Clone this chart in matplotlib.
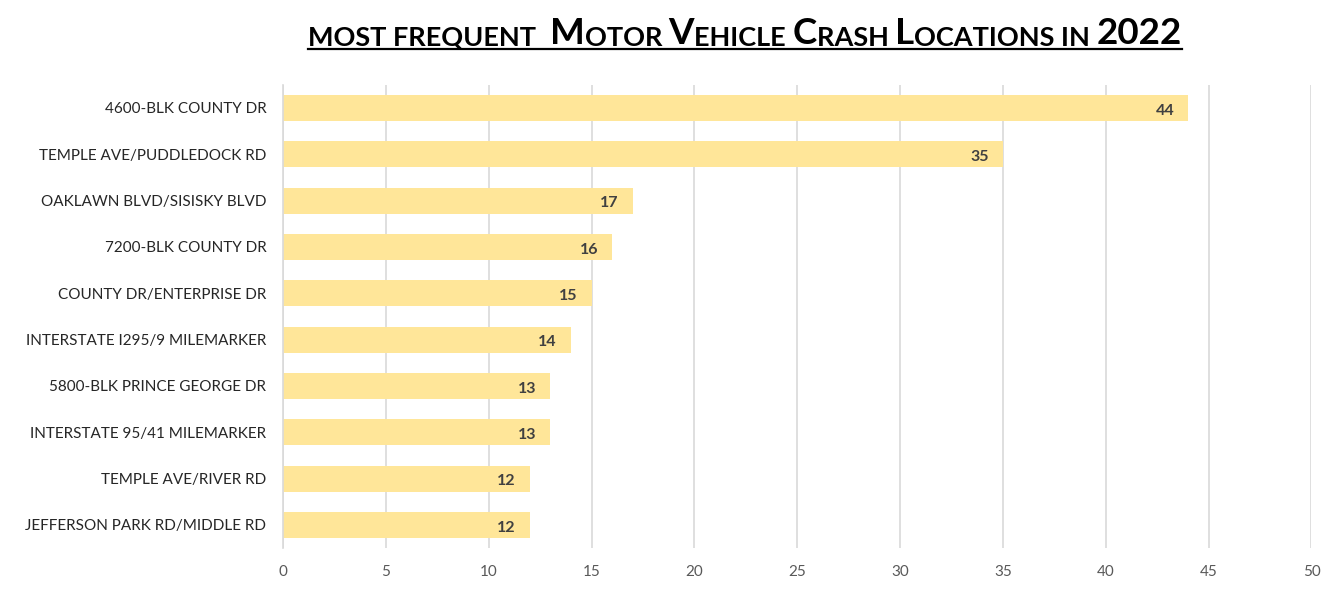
import matplotlib
matplotlib.use("Agg")
import matplotlib.pyplot as plt

# data, top to bottom as shown
locations = [
    "4600-BLK COUNTY DR",
    "TEMPLE AVE/PUDDLEDOCK RD",
    "OAKLAWN BLVD/SISISKY BLVD",
    "7200-BLK COUNTY DR",
    "COUNTY DR/ENTERPRISE DR",
    "INTERSTATE I295/9 MILEMARKER",
    "5800-BLK PRINCE GEORGE DR",
    "INTERSTATE 95/41 MILEMARKER",
    "TEMPLE AVE/RIVER RD",
    "JEFFERSON PARK RD/MIDDLE RD",
]
crashes = [44, 35, 17, 16, 15, 14, 13, 13, 12, 12]
x_ticks = [0, 5, 10, 15, 20, 25, 30, 35, 40, 45, 50]

# title pieces: (text, size) to fake small caps
title_parts = [
    ("MOST FREQUENT  ", 19.5), ("M", 26.5), ("OTOR ", 19.5), ("V", 26.5), ("EHICLE ", 19.5),
    ("C", 26.5), ("RASH ", 19.5), ("L", 26.5), ("OCATIONS IN ", 19.5), ("2022", 26.5),
]

plt.rcParams["font.family"] = ["Lato", "DejaVu Sans"]

fig = plt.figure(figsize=(13.41, 5.97), dpi=100)
ax = fig.add_axes([0.211, 0.082, 0.767, 0.776])

ypos = list(range(len(locations)))[::-1]
ax.barh(ypos, crashes, height=0.56, color="#FFE699", zorder=2)
for y, v in zip(ypos, crashes):
    ax.annotate(str(v), xy=(v, y), xytext=(-10, -2), textcoords="offset points",
                ha="right", va="center", fontsize=11.5, fontweight="bold",
                color="#404040", zorder=3)

ax.set_xlim(0, 50)
ax.set_ylim(-0.5, len(locations) - 0.5)
ax.set_xticks(x_ticks)
ax.set_yticks(ypos)
ax.set_yticklabels(locations)
ax.grid(axis="x", color="#D9D9D9", linewidth=1.2, zorder=0)
for s in ["top", "right", "bottom"]:
    ax.spines[s].set_visible(False)
ax.spines["left"].set_color("#D9D9D9")
ax.spines["left"].set_linewidth(1.2)
ax.tick_params(axis="x", length=0, pad=12, labelsize=11, labelcolor="#595959")
ax.tick_params(axis="y", length=0, pad=12, labelsize=11, labelcolor="#262626")

# title built from pieces
base_y = 0.923
prev = fig.text(0.230, base_y, title_parts[0][0], fontsize=title_parts[0][1],
                fontweight="bold", color="black", va="baseline")
pieces = [prev]
for txt, sz in title_parts[1:]:
    prev = ax.annotate(txt, xy=(1, 0), xycoords=prev, xytext=(0, 0),
                       textcoords="offset points", fontsize=sz, fontweight="bold",
                       color="black", va="bottom", annotation_clip=False)
    pieces.append(prev)
fig.canvas.draw()
r = fig.canvas.get_renderer()
b0 = pieces[0].get_window_extent(r)
b1 = pieces[-1].get_window_extent(r)
W = fig.bbox.width
yl = base_y - 3.5 / 597
fig.add_artist(plt.Line2D([b0.x0 / W, b1.x1 / W], [yl, yl], color="black",
                          linewidth=1.6, transform=fig.transFigure))

fig.savefig("out.png", dpi=100)
